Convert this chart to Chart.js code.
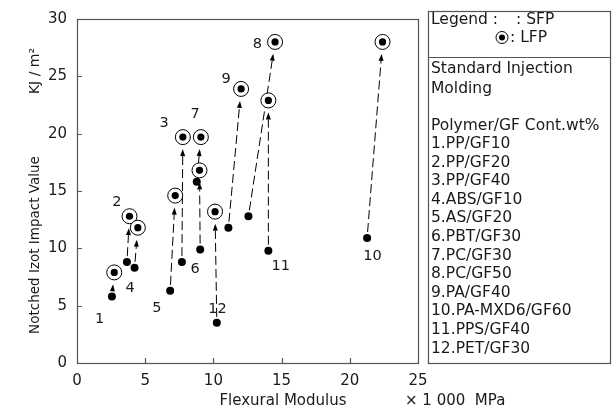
<!DOCTYPE html>
<html>
<head>
<meta charset="utf-8">
<script src="https://cdn.jsdelivr.net/npm/chart.js@4.4.1/dist/chart.umd.min.js"></script>
<style>
    html, body { margin: 0; padding: 0; background: #fff; }
</style>
</head>
<body>
<canvas id="chart" width="615" height="412"></canvas>
<script>
// one entry per grade, SFP -> LFP
const grades = ["1", "2", "3", "4", "5", "6", "7", "8", "9", "10", "11", "12"];
const sfpModulus = [2.56, 3.66, 7.69, 4.22, 6.83, 9.03, 8.78, 12.57, 11.10, 21.27, 14.03, 10.25];
const sfpImpact = [5.8, 8.8, 8.8, 8.3, 6.3, 9.9, 15.8, 12.8, 11.8, 10.9, 9.8, 3.5];
const lfpModulus = [2.73, 3.85, 7.76, 4.46, 7.20, 8.98, 9.08, 14.52, 12.03, 22.40, 14.03, 10.12];
const lfpImpact = [7.9, 12.8, 19.7, 11.8, 14.6, 16.8, 19.7, 28.0, 23.9, 28.0, 22.9, 13.2];
// where the grade numbers sit, in axis units
const tagModulus = [1.65, 2.93, 6.39, 3.90, 5.86, 8.66, 8.66, 13.22, 10.93, 21.67, 14.93, 10.30];
const tagImpact = [3.8, 14.0, 20.9, 6.5, 4.75, 8.2, 21.7, 27.8, 24.75, 9.3, 8.4, 4.66];

const xTicks = [0, 5, 10, 15, 20, 25];
const yTicks = [0, 5, 10, 15, 20, 25, 30];

const notes = ["Standard Injection", "Molding"];
const polymers = [
    "1.PP/GF10",
    "2.PP/GF20",
    "3.PP/GF40",
    "4.ABS/GF10",
    "5.AS/GF20",
    "6.PBT/GF30",
    "7.PC/GF30",
    "8.PC/GF50",
    "9.PA/GF40",
    "10.PA-MXD6/GF60",
    "11.PPS/GF40",
    "12.PET/GF30"
];

const FONT = '"DejaVu Sans", sans-serif';
const INK = "#1a1a1a";
const FRAME = "#555";

function pairs(xs, ys) {
    return xs.map((v, i) => ({ x: v, y: ys[i] }));
}

function text(ctx, str, x, y, size, align) {
    ctx.font = size + "px " + FONT;
    ctx.textAlign = align || "left";
    ctx.textBaseline = "middle";
    ctx.fillText(str, x, y);
}

const overlay = {
    id: "overlay",

    beforeDatasetsDraw(chart) {
        const { ctx, scales: { x, y } } = chart;
        ctx.save();
        ctx.strokeStyle = "#000";
        ctx.fillStyle = "#000";
        ctx.lineWidth = 1;
        for (let i = 0; i < grades.length; i++) {
            const ax = x.getPixelForValue(sfpModulus[i]);
            const ay = y.getPixelForValue(sfpImpact[i]);
            const bx = x.getPixelForValue(lfpModulus[i]);
            const by = y.getPixelForValue(lfpImpact[i]);
            const len = Math.hypot(bx - ax, by - ay);
            const ux = (bx - ax) / len, uy = (by - ay) / len;
            const sx = ax + ux * 6, sy = ay + uy * 6;
            const tx = bx - ux * 12, ty = by - uy * 12;
            const hx = tx - ux * 7, hy = ty - uy * 7;
            if ((hx - sx) * ux + (hy - sy) * uy > 0) {
                ctx.setLineDash([9, 4]);
                ctx.beginPath();
                ctx.moveTo(sx, sy);
                ctx.lineTo(hx, hy);
                ctx.stroke();
            }
            ctx.setLineDash([]);
            ctx.beginPath();
            ctx.moveTo(tx, ty);
            ctx.lineTo(hx - uy * 2.5, hy + ux * 2.5);
            ctx.lineTo(hx + uy * 2.5, hy - ux * 2.5);
            ctx.closePath();
            ctx.fill();
        }
        ctx.restore();
    },

    afterDraw(chart) {
        const { ctx, chartArea: a, scales: { x, y } } = chart;
        ctx.save();

        // frame + inward ticks
        ctx.strokeStyle = FRAME;
        ctx.lineWidth = 1.2;
        ctx.strokeRect(a.left + 0.5, a.top + 0.5, a.right - a.left, a.bottom - a.top);
        ctx.beginPath();
        xTicks.slice(1, -1).forEach(v => {
            const px = Math.round(x.getPixelForValue(v)) + 0.5;
            ctx.moveTo(px, a.bottom);
            ctx.lineTo(px, a.bottom - 5);
        });
        yTicks.slice(1, -1).forEach(v => {
            const py = Math.round(y.getPixelForValue(v)) + 0.5;
            ctx.moveTo(a.left, py);
            ctx.lineTo(a.left + 5, py);
        });
        ctx.stroke();

        ctx.fillStyle = INK;

        // grade numbers
        grades.forEach((g, i) => {
            text(ctx, g, x.getPixelForValue(tagModulus[i]), y.getPixelForValue(tagImpact[i]), 14.5, "center");
        });

        // axis titles
        text(ctx, "Flexural Modulus", 283, 401, 15, "center");
        text(ctx, "\u00d7 1 000  MPa", 405, 401, 15, "left");

        ctx.save();
        ctx.translate(35, 245);
        ctx.rotate(-Math.PI / 2);
        text(ctx, "Notched Izot Impact Value", 0, 0, 13.5, "center");
        ctx.restore();
        ctx.save();
        ctx.translate(35, 71);
        ctx.rotate(-Math.PI / 2);
        text(ctx, "KJ / m\u00b2", 0, 0, 14, "center");
        ctx.restore();

        // side panel
        ctx.strokeStyle = FRAME;
        ctx.lineWidth = 1.2;
        ctx.strokeRect(428.5, 11.5, 182, a.bottom - 11);
        ctx.beginPath();
        ctx.moveTo(428.5, 57.5);
        ctx.lineTo(610.5, 57.5);
        ctx.stroke();

        text(ctx, "Legend :", 431, 20, 15.5);
        text(ctx, ": SFP", 516, 20, 15.5);
        ctx.strokeStyle = "#000";
        ctx.lineWidth = 1;
        ctx.beginPath();
        ctx.arc(502, 37.5, 6, 0, Math.PI * 2);
        ctx.stroke();
        ctx.fillStyle = "#000";
        ctx.beginPath();
        ctx.arc(502, 37.5, 3, 0, Math.PI * 2);
        ctx.fill();
        ctx.fillStyle = INK;
        text(ctx, ": LFP", 510, 37.5, 15.5);

        notes.forEach((s, i) => text(ctx, s, 431, 68.5 + i * 20, 15.5));
        text(ctx, "Polymer/GF Cont.wt%", 431, 126, 15.5);
        polymers.forEach((s, i) => text(ctx, s, 431, 144 + i * 18.6, 15.5));

        ctx.restore();
    }
};

const lfpPoints = pairs(lfpModulus, lfpImpact);

new Chart(document.getElementById("chart"), {
    type: "scatter",

    data: {
        datasets: [
            {
                label: "LFP core",
                data: lfpPoints,
                order: 0,
                pointRadius: 3.6,
                pointBackgroundColor: "#000",
                pointBorderWidth: 0
            },
            {
                label: "SFP",
                data: pairs(sfpModulus, sfpImpact),
                order: 1,
                pointRadius: 4,
                pointBackgroundColor: "#000",
                pointBorderWidth: 0
            },
            {
                label: "LFP",
                data: lfpPoints,
                order: 2,
                pointRadius: 7.5,
                pointBackgroundColor: "#fff",
                pointBorderColor: "#000",
                pointBorderWidth: 1
            }
        ]
    },

    options: {
        responsive: false,
        animation: false,
        events: [],

        layout: {
            padding: { left: 0, top: 11, right: 197, bottom: 0 }
        },

        plugins: {
            legend: { display: false },
            tooltip: { enabled: false }
        },

        scales: {
            x: {
                type: "linear",
                min: 0,
                max: 25,
                afterBuildTicks: s => { s.ticks = xTicks.map(v => ({ value: v })); },
                afterFit: s => { s.height = 49; },
                grid: { display: false, drawTicks: false },
                border: { display: false },
                ticks: {
                    color: INK,
                    padding: 9,
                    maxRotation: 0,
                    font: { family: FONT, size: 15 }
                }
            },
            y: {
                type: "linear",
                min: 0,
                max: 30,
                afterBuildTicks: s => { s.ticks = yTicks.map(v => ({ value: v })); },
                afterFit: s => { s.width = 77; },
                grid: { display: false, drawTicks: false },
                border: { display: false },
                ticks: {
                    color: INK,
                    padding: 10,
                    font: { family: FONT, size: 15 }
                }
            }
        }
    },

    plugins: [overlay]
});
</script>
</body>
</html>
